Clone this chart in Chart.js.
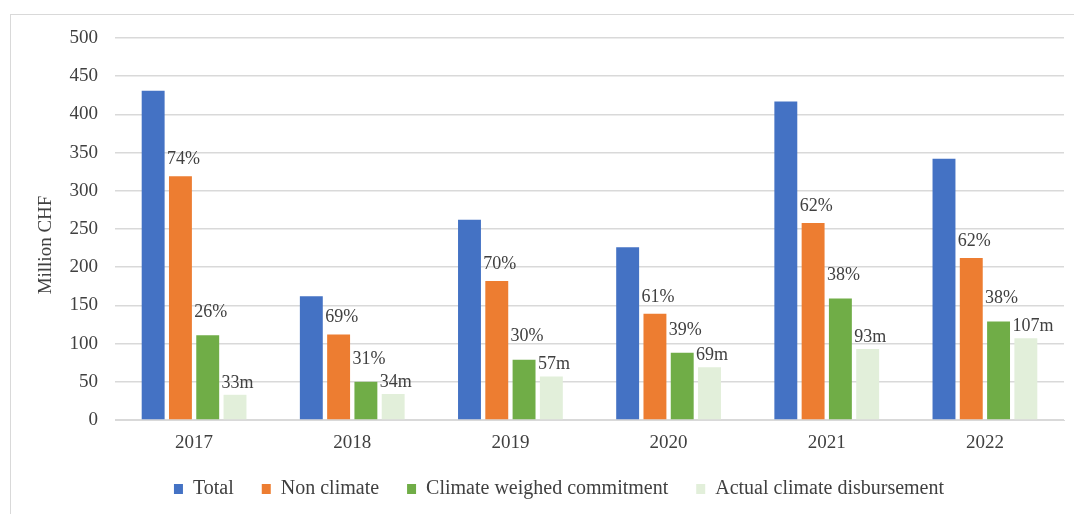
<!DOCTYPE html>
<html>
<head>
<meta charset="utf-8">
<title>Million CHF by year</title>
<script src="https://cdn.jsdelivr.net/npm/chart.js@4.4.1/dist/chart.umd.min.js"></script>
<style>
  html, body { margin: 0; padding: 0; background: #fff; overflow: hidden; }
  #wrap { position: relative; width: 1074px; height: 514px; }
  #frame {
    position: absolute; left: 10px; top: 14px; width: 1080px; height: 520px;
    border: 1px solid #d9d9d9; box-sizing: border-box;
  }
  #chart { position: absolute; left: 0; top: 0; }
</style>
</head>
<body>
<div id="wrap">
  <div id="frame"></div>
  <canvas id="chart" width="1074" height="514"></canvas>
</div>
<script>
// Anni e serie (milioni di CHF)
const years = ['2017', '2018', '2019', '2020', '2021', '2022'];
const total = [431, 162, 262, 226, 417, 342];
const nonClimate = [319, 112, 182, 139, 258, 212];
const climateWeighed = [111, 50, 79, 88, 159, 129];
const disbursement = [33, 34, 57, 69, 93, 107];

// Etichette sopra le barre
const nonClimateShare = ['74%', '69%', '70%', '61%', '62%', '62%'];
const climateShare = ['26%', '31%', '30%', '39%', '38%', '38%'];
const disbursementLabels = disbursement.map(v => v + 'm');

const yTicks = [0, 50, 100, 150, 200, 250, 300, 350, 400, 450, 500];

const FONT = '"Liberation Serif", "Times New Roman", serif';
const TEXT = '#404040';

// Etichette delle barre: per ogni dataset un array di testi e uno scarto verticale
const barLabels = {
  id: 'barLabels',
  afterDatasetsDraw(chart) {
    const sets = [
      { index: 1, texts: nonClimateShare, gap: 8 },
      { index: 2, texts: climateShare, gap: 14 },
      { index: 3, texts: disbursementLabels, gap: 3 }
    ];
    const ctx = chart.ctx;
    ctx.save();
    ctx.font = '18px ' + FONT;
    ctx.fillStyle = TEXT;
    ctx.textAlign = 'left';
    ctx.textBaseline = 'bottom';
    sets.forEach(s => {
      chart.getDatasetMeta(s.index).data.forEach((bar, i) => {
        ctx.fillText(s.texts[i], bar.x - bar.width / 2 - 2, bar.y - s.gap);
      });
    });
    ctx.restore();
  }
};

// Titolo dell'asse Y disegnato a mano (un po' più in basso del centro)
const yTitle = {
  id: 'yTitle',
  afterDraw(chart) {
    const area = chart.chartArea;
    const ctx = chart.ctx;
    ctx.save();
    ctx.translate(46, (area.top + area.bottom) / 2 + 16);
    ctx.rotate(-Math.PI / 2);
    ctx.font = '19px ' + FONT;
    ctx.fillStyle = TEXT;
    ctx.textAlign = 'center';
    ctx.textBaseline = 'middle';
    ctx.fillText('Million CHF', 0, 0);
    ctx.restore();
  }
};

const ctx = document.getElementById('chart').getContext('2d');

new Chart(ctx, {
  type: 'bar',
  data: {
    labels: years,
    datasets: [
      { label: 'Total', data: total, backgroundColor: '#4472C4' },
      { label: 'Non climate', data: nonClimate, backgroundColor: '#ED7D31' },
      { label: 'Climate weighed commitment', data: climateWeighed, backgroundColor: '#70AD47' },
      { label: 'Actual climate disbursement', data: disbursement, backgroundColor: '#E2EFDA' }
    ]
  },
  options: {
    responsive: false,
    animation: false,
    devicePixelRatio: 1,
    categoryPercentage: 0.69,
    barPercentage: 0.84,
    layout: { padding: { top: 38, left: 54, right: 10, bottom: 5 } },
    scales: {
      x: {
        grid: { display: false, drawTicks: false },
        border: { color: '#d9d9d9', width: 1 },
        ticks: { color: TEXT, font: { family: FONT, size: 19, lineHeight: 1 }, padding: 13.5 },
        afterFit(scale) { scale.height = 31; }
      },
      y: {
        min: 0,
        max: 500,
        border: { display: false },
        grid: { color: '#d9d9d9', lineWidth: 1.5, drawTicks: false },
        afterBuildTicks(scale) { scale.ticks = yTicks.map(v => ({ value: v })); },
        ticks: { color: TEXT, font: { family: FONT, size: 19 }, padding: 17 },
        afterFit(scale) { scale.width = 61; }
      }
    },
    plugins: {
      legend: {
        position: 'bottom',
        labels: {
          color: TEXT,
          font: { family: FONT, size: 20 },
          boxWidth: 9,
          boxHeight: 10,
          padding: 28
        }
      },
      tooltip: { enabled: false }
    }
  },
  plugins: [barLabels, yTitle]
});
</script>
</body>
</html>
